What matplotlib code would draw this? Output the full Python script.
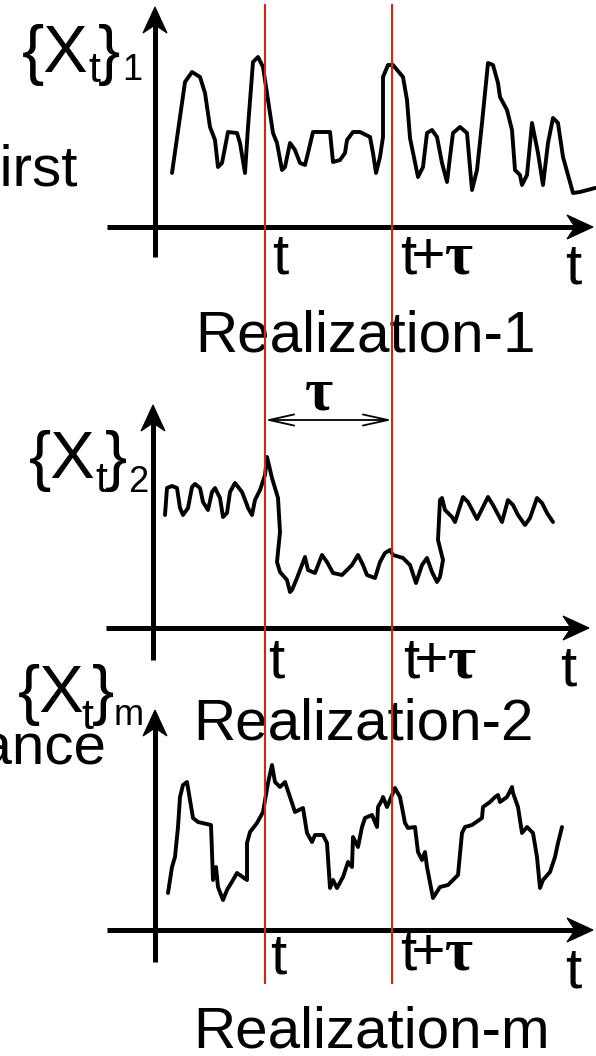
import matplotlib
matplotlib.use("Agg")
import matplotlib.pyplot as plt
from matplotlib.patches import Polygon
import numpy as np

# ---------------------------------------------------------------------------
# Three realizations of a random process {X_t}; t = time from the vertical
# axis, v = value above the time axis.
# ---------------------------------------------------------------------------
t1 = [17, 30, 37, 45, 50, 55, 60, 63, 67, 73, 82, 85, 90, 93, 98, 103, 108,
      113, 118, 122, 127, 130, 135, 140, 145, 150, 153, 158, 168, 175, 178,
      185, 190, 192, 198, 205, 215, 218, 221, 225, 228, 228, 233, 238, 248,
      252, 255, 263, 268, 272, 277, 282, 287, 292, 295, 298, 305, 312, 317,
      322, 327, 333, 338, 343, 345, 352, 357, 360, 365, 367, 372, 377, 383,
      388, 393, 398, 403, 408, 418, 425, 440]
v1 = [54, 145, 155, 150, 134, 100, 87, 60, 64, 95, 94, 84, 54, 100, 165, 170,
      160, 127, 94, 84, 57, 60, 84, 77, 64, 62, 74, 95, 95, 95, 65, 67, 74,
      87, 95, 95, 90, 74, 54, 70, 90, 150, 162, 162, 150, 127, 89, 50, 60, 94,
      97, 90, 64, 45, 70, 94, 100, 94, 37, 57, 104, 164, 162, 144, 130, 117,
      97, 57, 52, 42, 52, 104, 74, 42, 84, 109, 104, 70, 34, 35, 39]

t2 = [12, 14, 19, 24, 27, 30, 35, 39, 42, 47, 50, 55, 59, 62, 67, 70, 74, 77,
      82, 89, 94, 95, 99, 102, 107, 112, 114, 119, 125, 127, 124, 127, 134,
      137, 139, 144, 152, 155, 162, 169, 174, 180, 189, 199, 205, 210, 214,
      222, 227, 232, 237, 240, 250, 257, 263, 269, 274, 279, 284, 287, 290,
      285, 287, 289, 292, 299, 302, 310, 315, 324, 335, 340, 349, 355, 360,
      365, 372, 377, 384, 389, 394, 400]
v2 = [113, 140, 142, 140, 120, 113, 120, 141, 144, 140, 126, 118, 136, 140,
      130, 111, 115, 136, 145, 136, 123, 120, 113, 128, 138, 153, 171, 150,
      130, 96, 66, 56, 48, 36, 38, 50, 71, 58, 55, 73, 66, 55, 53, 63, 73, 63,
      53, 50, 66, 75, 78, 73, 70, 63, 45, 63, 70, 56, 46, 51, 68, 88, 128, 130,
      118, 111, 106, 131, 126, 109, 131, 123, 106, 128, 123, 113, 103, 110,
      130, 125, 115, 106]

tm = [13, 17, 20, 23, 25, 28, 32, 35, 38, 43, 56, 58, 61, 63, 68, 72, 78, 82,
      92, 92, 95, 102, 108, 113, 117, 120, 125, 130, 135, 140, 148, 152, 157,
      160, 168, 172, 175, 178, 182, 188, 193, 197, 198, 203, 207, 210, 217,
      222, 223, 227, 228, 232, 235, 240, 245, 250, 253, 260, 263, 267, 270,
      272, 278, 285, 293, 303, 307, 310, 317, 327, 328, 335, 340, 343, 345,
      352, 357, 358, 363, 367, 372, 378, 382, 385, 388, 395, 400, 403, 407]
vm = [37, 63, 73, 103, 133, 145, 148, 130, 112, 108, 105, 50, 63, 43, 30, 40,
      50, 57, 50, 87, 98, 107, 118, 147, 165, 148, 143, 148, 133, 118, 122,
      97, 88, 95, 95, 87, 42, 50, 42, 53, 68, 63, 93, 83, 103, 112, 115, 103,
      123, 130, 133, 123, 130, 142, 133, 107, 102, 103, 78, 70, 78, 63, 32,
      43, 45, 55, 97, 103, 105, 112, 123, 128, 133, 135, 128, 133, 143, 137,
      123, 97, 103, 97, 73, 42, 50, 58, 73, 87, 103]

realizations = [
    (t1, v1, "1", "Realization-1"),
    (t2, v2, "2", "Realization-2"),
    (tm, vm, "m", "Realization-m"),
]

# time instants of the two samples
t_sample = 110
tau = 127

# ---------------------------------------------------------------------------
W, H = 596, 1056
fig = plt.figure(figsize=(W / 100, H / 100), dpi=100)
ax = fig.add_axes([0, 0, 1, 1])
ax.set_xlim(0, W)
ax.set_ylim(H, 0)
ax.axis("off")

SANS = "Liberation Sans"
SERIF = "Liberation Serif"
AXIS_LW = 3.6
CURVE_LW = 2.8
RED = "#d02810"


def arrow_line(x0, y0, x1, y1, head_len=26, half_w=12, notch=8):
    """Thick axis line ending in a swept-back arrowhead at (x1, y1)."""
    d = np.array([x1 - x0, y1 - y0], float)
    d /= np.hypot(*d)
    n = np.array([-d[1], d[0]])
    tip = np.array([x1, y1], float)
    back = tip - head_len * d
    inner = tip - (head_len - notch) * d
    ax.plot([x0, inner[0]], [y0, inner[1]], color="black", lw=AXIS_LW,
            solid_capstyle="butt")
    ax.add_patch(Polygon([tip, back + half_w * n, inner, back - half_w * n],
                         closed=True, fc="black", ec="black", lw=0.8))


# panel frames: origin, y-axis tip / foot, x-axis start / tip
panels = [
    dict(ox=155, oy=227, ytip=7, yfoot=257, xstart=107, xtip=593),
    dict(ox=153, oy=628, ytip=405, yfoot=660, xstart=106, xtip=589),
    dict(ox=155, oy=930, ytip=710, yfoot=962, xstart=107, xtip=593),
]

# label placement per panel: brace block, t / t+tau labels, caption
label_pos = [
    dict(bx=22, bb=72, stx=88, stb=82, cbx=98, ssx=122, ssb=80,
         tl=(272, 273), ttl=(400, 273), tend=(565, 283), cap=(195, 352)),
    dict(bx=29, bb=478, stx=95, stb=492, cbx=105, ssx=128, ssb=492,
         tl=(268, 677), ttl=(403, 677), tend=(560, 685), cap=(193, 739)),
    dict(bx=18, bb=712, stx=81, stb=729, cbx=92, ssx=114, ssb=725,
         tl=(270, 973), ttl=(400, 970), tend=(565, 987), cap=(193, 1047)),
]

for (t, v, sub, caption), p, lp in zip(realizations, panels, label_pos):
    ox, oy = p["ox"], p["oy"]
    arrow_line(ox, p["yfoot"], ox, p["ytip"])
    arrow_line(p["xstart"], oy, p["xtip"], oy)
    ax.plot(ox + np.asarray(t), oy - np.asarray(v), color="black",
            lw=CURVE_LW, solid_joinstyle="round", solid_capstyle="round")

    # {X_t}_k
    ax.text(lp["bx"], lp["bb"], "{X", fontsize=48, family=SANS,
            ha="left", va="baseline")
    ax.text(lp["stx"], lp["stb"], "t", fontsize=31, family=SANS,
            ha="left", va="baseline")
    ax.text(lp["cbx"], lp["bb"], "}", fontsize=48, family=SANS,
            ha="left", va="baseline")
    ax.text(lp["ssx"], lp["ssb"], sub, fontsize=26, family=SANS,
            ha="left", va="baseline")

    # time labels
    ax.text(*lp["tl"], "t", fontsize=42, family=SANS, ha="left",
            va="baseline")
    x_tt, y_tt = lp["ttl"]
    ax.text(x_tt, y_tt, "t", fontsize=42, family=SANS, ha="left",
            va="baseline")
    ax.text(x_tt + 11, y_tt, "+\u03c4", fontsize=44, family=SERIF,
            fontweight="bold", ha="left", va="baseline")
    ax.text(*lp["tend"], "t", fontsize=42, family=SANS, ha="left",
            va="baseline")
    ax.text(*lp["cap"], caption, fontsize=42, family=SANS, ha="left",
            va="baseline")

# partial side annotations
ax.text(78, 185, "First", fontsize=42, family=SANS, ha="right",
        va="baseline")
ax.text(107, 763, "Variance", fontsize=42, family=SANS, ha="right",
        va="baseline")

# lag tau between the two sampling instants
x_t = panels[0]["ox"] + t_sample
x_tt = x_t + tau
ax.annotate("", xy=(x_t, 420), xytext=(x_tt, 420),
            arrowprops=dict(arrowstyle="<->,head_length=0.9,head_width=0.2",
                            lw=1.3, color="black", shrinkA=0, shrinkB=0,
                            mutation_scale=20))
ax.text((x_t + x_tt) / 2 - 10, 410, "\u03c4", fontsize=44, family=SERIF,
        fontweight="bold", ha="center", va="baseline")

# sampling instants t and t+tau across all realizations
for xr in (x_t, x_tt):
    ax.plot([xr, xr], [5, 983], color=RED, lw=1.5, zorder=5)

fig.savefig("out.png", dpi=100)
